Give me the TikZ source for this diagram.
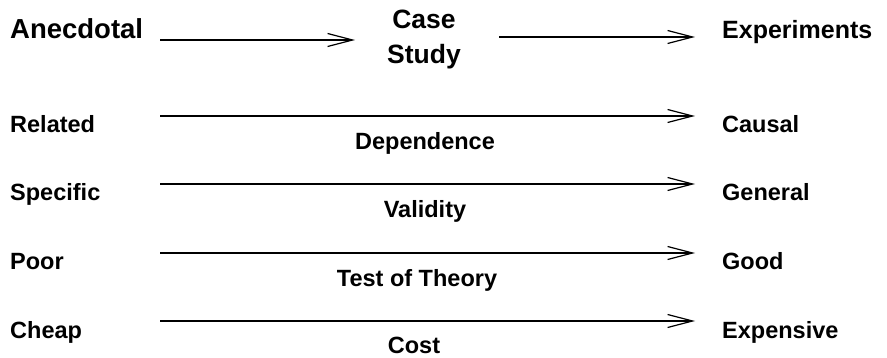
\documentclass[tikz,border=0pt]{standalone}
\usepackage{fontspec}
\setmainfont{Liberation Sans}
\usetikzlibrary{arrows.meta}
\begin{document}
\begin{tikzpicture}[x=1pt,y=-1pt,
  big/.style={font=\bfseries\fontsize{26.5}{35}\selectfont, inner sep=0pt},
  lab/.style={font=\bfseries\fontsize{23.5}{27}\selectfont, inner sep=0pt},
  rowlab/.style={lab, anchor=west, text height=17pt, text depth=0pt},
  conn/.style={line width=1.2pt, -{Straight Barb[length=25pt,width=13pt,line width=1.2pt]}}
]
\useasboundingbox (0,0) rectangle (887,358);
% top row
\node[big, anchor=base west, font=\bfseries\fontsize{27.5}{35}\selectfont] (anec) at (10,39) {Anecdotal};
\node[big, anchor=north, align=center] (case) at (424,10) {Case\\Study};
\node[big, anchor=base west, font=\bfseries\fontsize{25}{35}\selectfont] (expt) at (722,39) {Experiments};
\coordinate (t1s) at (160,40);
\coordinate (t1e) at (355,40);
\coordinate (t2s) at (499,37);
\coordinate (t2e) at (695,37);
\draw[conn] (t1s) -- (t1e);
\draw[conn] (t2s) -- (t2e);
% rows
\foreach \y/\l/\r/\c/\cx/\o/\n in {116/Related/Causal/Dependence/425/34/a,
                             184/Specific/General/Validity/425/34/b,
                             253/Poor/Good/Test of Theory/417/34/c,
                             321/Cheap/Expensive/Cost/414/32/d}{
  \node[rowlab, text width=150pt, align=left] (l\n) at (10,\y+8.5) {\l};
  \node[rowlab] (r\n) at (722,\y+8.5) {\r};
  \draw[conn] (l\n.east |- 0,\y) -- ([xshift=-27pt]r\n.west |- 0,\y);
  \node[lab, anchor=base] (c\n) at (\cx,\y+\o) {\c};
}
\end{tikzpicture}
\end{document}
